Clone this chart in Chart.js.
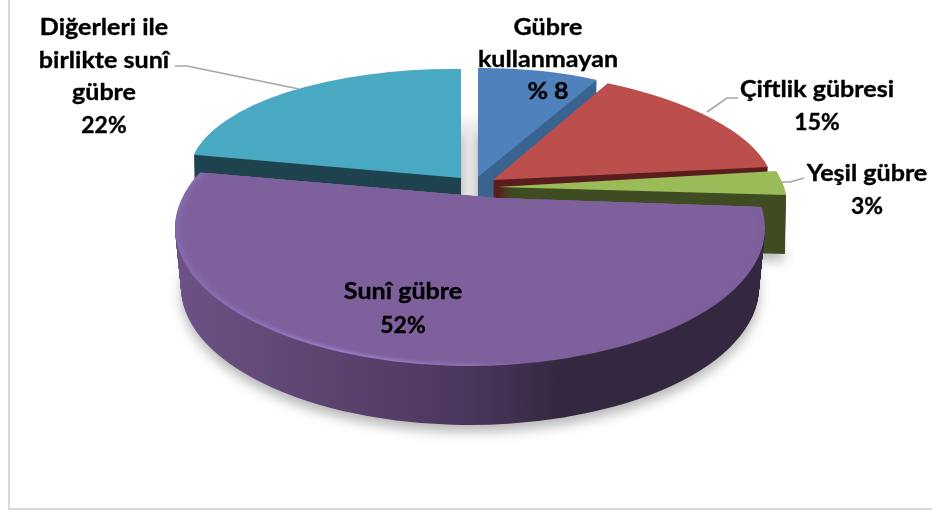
<!DOCTYPE html>
<html lang="tr">
<head>
<meta charset="utf-8">
<title>Gübre kullanımı</title>
<script src="https://cdn.jsdelivr.net/npm/chart.js@4"></script>
<style>
    html, body { margin: 0; padding: 0; background: #fff; }
    canvas { display: block; }
</style>
</head>
<body>
<canvas id="pieChart" width="932" height="513"></canvas>
<script>
// data
const categories = ['Gübre kullanmayan', 'Çiftlik gübresi', 'Yeşil gübre', 'Sunî gübre', 'Diğerleri ile birlikte sunî gübre'];
const shares = [8, 15, 3, 52, 22];
const labelLines = [
    ['Gübre', 'kullanmayan', '% 8'],
    ['Çiftlik gübresi', '15%'],
    ['Yeşil gübre', '3%'],
    ['Sunî gübre', '52%'],
    ['Diğerleri ile', 'birlikte sunî', 'gübre', '22%']
];

// styles
const topColors = ['#4f81bd', '#bc4f4c', '#9bbb59', '#7e609c', '#49a8c2'];
const sideColors = ['#3a6390', '#5a1e1e', '#404c22', '#33283f', '#1f444f'];
const drawOrder = [0, 4, 1, 2, 3];
const BIG = 3;
const DEPTH = 59;

// where each label goes: centre x, first baseline y
const labelPos = [[548, 35], [817, 97], [867, 181], [403, 299], [104, 35]];
const lineGap = [32, 33, 33, 34, 32.5];
const leaderLines = [
    [[175, 66], [187, 66], [299, 89]],
    [[707, 112], [727, 98], [738, 98]],
    [[782, 182], [790, 182], [804, 178]]
];

// fake 3D: each slice is mapped with an affine (apex, u axis, v axis)
const maps = [
    { c: [478, 177], u: [247, -3], v: [0, 109] },
    { c: [493, 180], u: [280, 1], v: [23, 111] },
    { c: [497, 187], u: [287, 0], v: [44, 127] },
    { c: [470, 228], u: [295, 0], v: [0, 138] },
    { c: [461, 178], u: [272, 3], v: [0, 109] }
];
// the big slice has perspective: its apex is not the ellipse centre, so the
// whole ellipse is drawn and cut along the two radial edges
const bigCut = { c: [497, 198], uRight: [268, -1.6], uLeft: [303, -6.5], v: [-27, 168] };

function clipBigSlice(ctx, el, dy) {
    const p = bigCut;
    const end = (angle, u) => [
        p.c[0] + 1.4 * (u[0] * Math.cos(angle) + p.v[0] * Math.sin(angle)),
        p.c[1] + 1.4 * (u[1] * Math.cos(angle) + p.v[1] * Math.sin(angle)) + dy
    ];
    const r = end(el.startAngle, p.uRight);
    const l = end(el.endAngle, p.uLeft);
    ctx.beginPath();
    ctx.moveTo(p.c[0], p.c[1] + dy);
    ctx.lineTo(r[0], r[1]);
    ctx.lineTo(r[0], 513);
    ctx.lineTo(l[0], 513);
    ctx.lineTo(l[0], l[1]);
    ctx.closePath();
    ctx.clip();
}

function drawSlice(ctx, el, map, fill, shrinkU, shrinkV, dy, whole) {
    const R = el.outerRadius;
    const a = map.u[0] * shrinkU / R, b = map.u[1] * shrinkU / R;
    const c = map.v[0] * shrinkV / R, d = map.v[1] * shrinkV / R;
    const saved = { o: el.options, s: el.startAngle, e: el.endAngle, n: el.circumference };
    ctx.save();
    if (whole) clipBigSlice(ctx, el, dy);
    ctx.transform(a, b, c, d,
        map.c[0] - a * el.x - c * el.y,
        map.c[1] + dy - b * el.x - d * el.y);
    el.options = Object.assign({}, saved.o, { backgroundColor: fill, borderWidth: 0 });
    if (whole) {
        el.endAngle = el.startAngle + Math.PI * 2;
        el.circumference = Math.PI * 2;
    }
    el.draw(ctx);
    el.options = saved.o;
    el.startAngle = saved.s;
    el.endAngle = saved.e;
    el.circumference = saved.n;
    ctx.restore();
}

function hGradient(ctx, el, stops) {
    const g = ctx.createLinearGradient(el.x - el.outerRadius, 0, el.x + el.outerRadius, 0);
    stops.forEach(s => g.addColorStop(s[0], s[1]));
    return g;
}

const pie3d = {
    id: 'pie3d',
    beforeDraw(chart) {
        const ctx = chart.ctx;
        ctx.save();
        ctx.fillStyle = '#fff';
        ctx.fillRect(0, 0, chart.width, chart.height);
        // frame of the chart area
        ctx.strokeStyle = '#d9d9d9';
        ctx.lineWidth = 2;
        ctx.beginPath();
        ctx.moveTo(9, 0);
        ctx.lineTo(9, 509);
        ctx.lineTo(932, 509);
        ctx.stroke();
        // soft grey in the gap between the two back slices
        const gap = ctx.createLinearGradient(0, 112, 0, 126);
        gap.addColorStop(0, 'rgba(236,236,236,0)');
        gap.addColorStop(1, '#ececec');
        ctx.fillStyle = gap;
        ctx.fillRect(455, 112, 30, 90);
        ctx.restore();
    },
    beforeDatasetsDraw(chart) {
        const ctx = chart.ctx;
        const arcs = chart.getDatasetMeta(0).data;
        drawOrder.forEach(i => {
            const el = arcs[i];
            const big = i === BIG;
            const shrink = big ? 0.02 : 0.004;
            const side = big
                ? hGradient(ctx, el, [[0, '#6c5285'], [0.5, '#4b365c'], [0.66, '#33283f'], [1, '#33283f']])
                : sideColors[i];
            // bottom layer carries the soft shadow
            ctx.save();
            ctx.shadowColor = 'rgba(0,0,0,0.28)';
            ctx.shadowBlur = 12;
            ctx.shadowOffsetY = 7;
            drawSlice(ctx, el, maps[i], side, 1 - shrink, 1, DEPTH, big);
            ctx.restore();
            for (let dy = DEPTH - 1; dy > 0; dy--) {
                drawSlice(ctx, el, maps[i], side, 1 - shrink * dy / DEPTH, 1, dy, big);
            }
            if (big) {
                // light rim on the front edge
                const rim = hGradient(ctx, el, [[0, '#8468ac'], [0.3, '#957bc2'], [0.5, '#8a6eac'], [0.6, '#7e609c'], [1, '#7e609c']]);
                drawSlice(ctx, el, maps[i], rim, 1, 1, 0, true);
                [[0.99, 0.25], [0.983, 0.4], [0.976, 0.6], [0.968, 1]].forEach(s => {
                    ctx.save();
                    ctx.globalAlpha = s[1];
                    drawSlice(ctx, el, maps[i], topColors[i], s[0], s[0], 0, true);
                    ctx.restore();
                });
            } else {
                drawSlice(ctx, el, maps[i], topColors[i], 1, 1, 0, false);
            }
        });
        return false; // we drew the arcs ourselves
    },
    afterDraw(chart) {
        const ctx = chart.ctx;
        ctx.save();
        ctx.strokeStyle = '#a6a6a6';
        ctx.lineWidth = 1.6;
        leaderLines.forEach(pts => {
            ctx.beginPath();
            pts.forEach((p, k) => k ? ctx.lineTo(p[0], p[1]) : ctx.moveTo(p[0], p[1]));
            ctx.stroke();
        });
        ctx.restore();
        // Calibri-like bold, the reference text is a bit wider than Lato
        ctx.save();
        ctx.fillStyle = '#000';
        ctx.strokeStyle = '#000';
        ctx.lineWidth = 0.35;
        ctx.font = 'bold 22px Lato, "Open Sans", sans-serif';
        ctx.textAlign = 'center';
        ctx.textBaseline = 'alphabetic';
        labelLines.forEach((lines, i) => {
            lines.forEach((line, k) => {
                ctx.save();
                ctx.translate(labelPos[i][0], labelPos[i][1] + k * lineGap[i]);
                ctx.scale(line.endsWith('%') ? 1.04 : 1.14, 1);
                ctx.fillText(line, 0, 0);
                ctx.strokeText(line, 0, 0);
                ctx.restore();
            });
        });
        ctx.restore();
    }
};

new Chart(document.getElementById('pieChart').getContext('2d'), {
    type: 'pie',
    data: {
        labels: categories,
        datasets: [{
            data: shares,
            backgroundColor: topColors,
            borderWidth: 0
        }]
    },
    options: {
        responsive: false,
        animation: false,
        events: [],
        plugins: {
            legend: { display: false },
            tooltip: { enabled: false }
        }
    },
    plugins: [pie3d]
});
</script>
</body>
</html>
